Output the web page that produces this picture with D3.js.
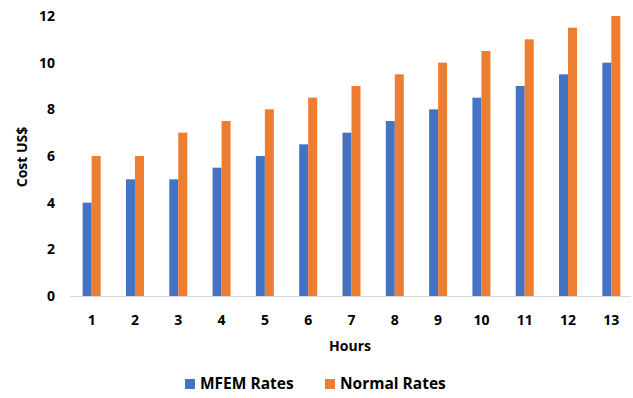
<!DOCTYPE html>
<html><head><meta charset="utf-8">
<script src="https://cdn.jsdelivr.net/npm/d3@7"></script>
<style>body{margin:0;background:#fff}svg{display:block;font-family:"Open Sans",Lato,sans-serif;font-weight:bold}</style>
</head><body><svg id="c" width="633" height="398"></svg>
<script>
const hours = ["1","2","3","4","5","6","7","8","9","10","11","12","13"];
const mfemRates = [4,5,5,5.5,6,6.5,7,7.5,8,8.5,9,9.5,10];
const normalRates = [6,6,7,7.5,8,8.5,9,9.5,10,10.5,11,11.5,12];
const yTicks = [0,2,4,6,8,10,12];
const seriesNames = ["MFEM Rates","Normal Rates"];
const colors = ["#4472C4","#ED7D31"];

const svg = d3.select("#c");
const pL = 70, pR = 633, pT = 16, pB = 296;
const x = d3.scaleBand().domain(hours).range([pL, pR]).paddingInner(0).paddingOuter(0);
const y = d3.scaleLinear().domain([0,12]).range([pB, pT]);
const barW = 9;
const xs = d3.scaleBand().domain(seriesNames).range([0, barW*2]);

// y tick labels
svg.append("g").selectAll("text").data(yTicks).join("text")
  .attr("x", 55).attr("y", d => y(d)).attr("dy","0.35em")
  .attr("text-anchor","end").attr("font-size",14).attr("fill","#000").text(d => d);

// bars
const data = [mfemRates, normalRates];
data.forEach((vals, si) => {
  svg.append("g").selectAll("rect").data(vals).join("rect")
    .attr("x", (d,i) => x(hours[i]) + x.bandwidth()/2 - barW + xs(seriesNames[si]))
    .attr("y", d => y(d)).attr("width", xs.bandwidth()).attr("height", d => pB - y(d))
    .attr("fill", colors[si]);
});

// x axis line
svg.append("line").attr("x1", pL).attr("x2", 631).attr("y1", pB+0.5).attr("y2", pB+0.5)
  .attr("stroke","#d9d9d9").attr("stroke-width",1);

// x tick labels
svg.append("g").selectAll("text").data(hours).join("text")
  .attr("x", d => x(d) + x.bandwidth()/2).attr("y", 320).attr("dy","0.35em")
  .attr("text-anchor","middle").attr("font-size",14).attr("fill","#000").text(d => d);

// axis titles
svg.append("text").attr("x", 350).attr("y", 346).attr("dy","0.35em").attr("text-anchor","middle")
  .attr("font-size",14).text("Hours");
svg.append("text").attr("transform","translate(22,157) rotate(-90)").attr("dy","0.35em")
  .attr("text-anchor","middle").attr("font-size",14).text("Cost US$");

// legend
const legX = [185, 325];
seriesNames.forEach((n, i) => {
  svg.append("rect").attr("x", legX[i]).attr("y", 379).attr("width", 10).attr("height", 10).attr("fill", colors[i]);
  svg.append("text").attr("x", legX[i] + 15).attr("y", 384).attr("dy","0.35em").attr("font-size",15.5).text(n);
});
</script></body></html>
